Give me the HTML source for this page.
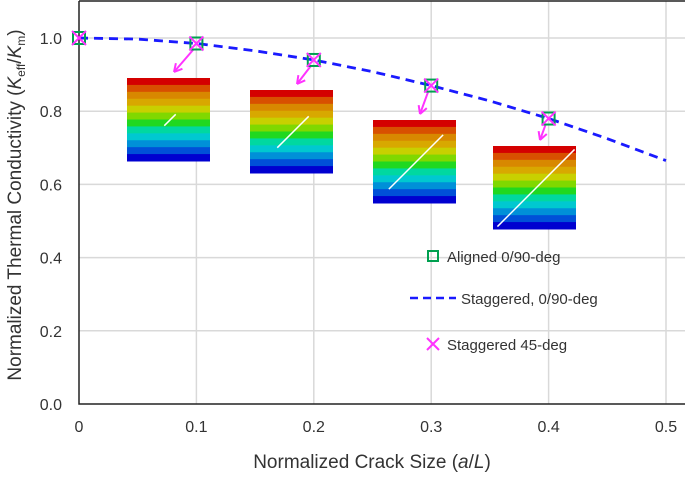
<!DOCTYPE html>
<html><head><meta charset="utf-8"><style>
body{margin:0;background:#fff}
text{font-family:"Liberation Sans",sans-serif;fill:#333}
</style></head><body>
<svg id="c" width="685" height="476" xmlns="http://www.w3.org/2000/svg"></svg>
<script>
const xTicks=[0,0.1,0.2,0.3,0.4,0.5];
const yTicks=[0,0.2,0.4,0.6,0.8,1.0];
const lineX=[0,0.05,0.1,0.15,0.2,0.25,0.3,0.35,0.4,0.45,0.5];
const lineY=[1.0,0.997,0.985,0.965,0.94,0.908,0.87,0.828,0.78,0.725,0.665];
const markX=[0,0.1,0.2,0.3,0.4];
const alignedY=[1.0,0.985,0.94,0.87,0.78];
const stag45Y=[1.0,0.985,0.94,0.87,0.78];
const insets=[[127,78],[250,90],[373,120],[493,146]];
const crackLen=[8,22,38,54];
const NS="http://www.w3.org/2000/svg";
const svg=document.getElementById('c');
const X=v=>79+v*1174;
const Y=v=>404-v*366;
function el(t,a,p){const e=document.createElementNS(NS,t);for(const k in a)e.setAttribute(k,a[k]);(p||svg).appendChild(e);return e;}
xTicks.forEach(t=>{if(t>0){const g=el('line',{x1:X(t),x2:X(t),y1:1,y2:404,stroke:'#d9d9d9','stroke-width':1.5});

}
const l=el('text',{x:X(t),y:432,'font-size':16,'text-anchor':'middle'});l.textContent=t===0?'0':t.toFixed(1);

});
yTicks.forEach(t=>{if(t>0){const g=el('line',{x1:79,x2:685,y1:Y(t),y2:Y(t),stroke:'#d9d9d9','stroke-width':1.5});

}
const l=el('text',{x:62,y:Y(t)+6,'font-size':16,'text-anchor':'end'});l.textContent=t.toFixed(1);

});
const axesPath=el('path',{d:'M79,1 V404 H685',fill:'none',stroke:'#222','stroke-width':1.5});


const borderTop=el('line',{x1:79,x2:685,y1:1,y2:1,stroke:'#222','stroke-width':1.5});


const cols=['#d40000','#d85000','#d88800','#d8a800','#c8d000','#80d800','#20d820','#00d8a0','#00c8d0','#0090d8','#0050d8','#0000d0'];
insets.forEach((p,i)=>{const g=el('g',{});


const h=83/cols.length;cols.forEach((c,j)=>el('rect',{x:p[0],y:p[1]+j*h,width:83,height:h+0.5,fill:c},g));
const cx=p[0]+43,cy=p[1]+42,L=crackLen[i];
el('line',{x1:cx-L/1.4,y1:cy+L/1.4,x2:cx+L/1.4,y2:cy-L/1.4,stroke:'#fff','stroke-width':1.5},g);
const m=markX[i+1];const ar=el('g',{});


const sx=X(m)-3,sy=Y(stag45Y[i+1])+6,ex=p[0]+47,ey=p[1]-6;
el('line',{x1:sx,y1:sy,x2:ex,y2:ey,stroke:'#ff33ff','stroke-width':2},ar);
const a=Math.atan2(ey-sy,ex-sx);
el('path',{d:`M${ex},${ey} L${ex-9*Math.cos(a-0.5)},${ey-9*Math.sin(a-0.5)} M${ex},${ey} L${ex-9*Math.cos(a+0.5)},${ey-9*Math.sin(a+0.5)}`,stroke:'#ff33ff','stroke-width':2,fill:'none'},ar);});
const ln=el('path',{d:lineX.map((v,i)=>(i?'L':'M')+X(v)+','+Y(lineY[i])).join(' '),fill:'none',stroke:'#1a1aff','stroke-width':2.8,'stroke-dasharray':'9,6'});


markX.forEach((v,i)=>{const s=el('rect',{x:X(v)-6,y:Y(alignedY[i])-6,width:12,height:12,fill:'none',stroke:'#00a050','stroke-width':2});


const x=X(v),y=Y(stag45Y[i]);const c=el('path',{d:`M${x-7},${y-7}L${x+7},${y+7}M${x-7},${y+7}L${x+7},${y-7}`,stroke:'#ff33ff','stroke-width':2});

});
const lg=el('g',{});


el('rect',{x:428,y:251,width:10,height:10,fill:'none',stroke:'#00a050','stroke-width':2},lg);
let t=el('text',{x:447,y:262,'font-size':15},lg);t.textContent='Aligned 0/90-deg';
el('line',{x1:410,x2:456,y1:298,y2:298,stroke:'#1a1aff','stroke-width':2.5,'stroke-dasharray':'8,5'},lg);
t=el('text',{x:461,y:304,'font-size':15},lg);t.textContent='Staggered, 0/90-deg';
el('path',{d:'M427,338L439,350M427,350L439,338',stroke:'#ff33ff','stroke-width':2},lg);
t=el('text',{x:447,y:350,'font-size':15},lg);t.textContent='Staggered 45-deg';
</script>
<svg style="position:absolute;left:0;top:0" width="685" height="476">
<text x="372" y="468" font-size="19" text-anchor="middle" fill="#333" font-family="Liberation Sans">Normalized Crack Size (<tspan font-style="italic">a</tspan>/<tspan font-style="italic">L</tspan>)</text>
<text transform="translate(21,205) rotate(-90)" font-size="19" text-anchor="middle" fill="#333" font-family="Liberation Sans">Normalized Thermal Conductivity (<tspan font-style="italic">K</tspan><tspan font-size="12" dy="4">eff</tspan><tspan dy="-4">/</tspan><tspan font-style="italic">K</tspan><tspan font-size="12" dy="4">m</tspan><tspan dy="-4">)</tspan></text>
</svg>
</body></html>
